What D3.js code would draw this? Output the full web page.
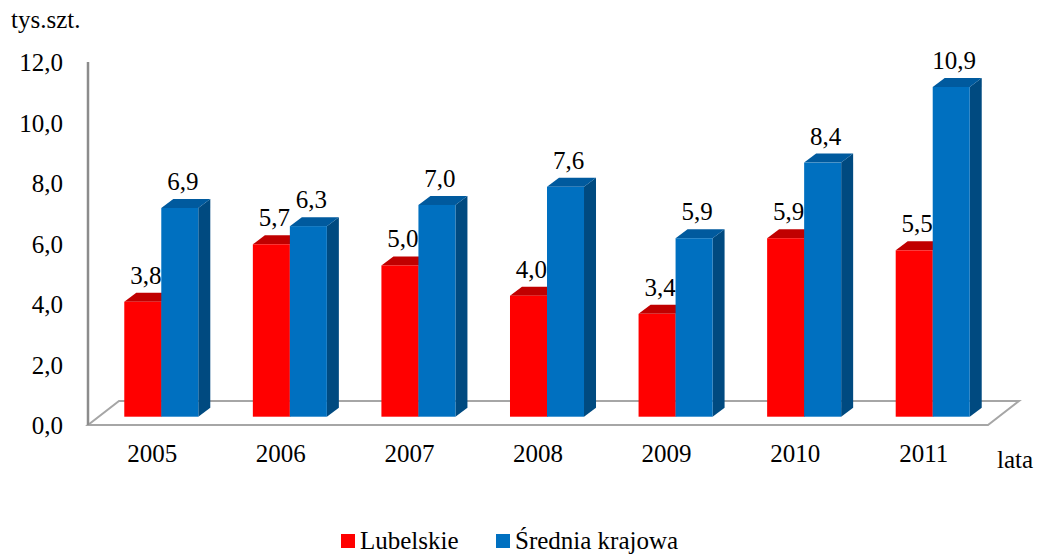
<!DOCTYPE html>
<html lang="pl">
<head>
  <meta charset="UTF-8">
  <title>tys.szt. 2005-2011</title>
  <script src="https://cdn.jsdelivr.net/npm/d3@7"></script>
  <style>
    body { margin: 0; background: #fff; }
  </style>
</head>
<body>
<svg></svg>
<script>
  const width = 1040, height = 554

  // dane
  const years = ['2005', '2006', '2007', '2008', '2009', '2010', '2011']
  const series = ['Lubelskie', 'Średnia krajowa']
  const lubelskie = [3.8, 5.7, 5.0, 4.0, 3.4, 5.9, 5.5]
  const srednia = [6.9, 6.3, 7.0, 7.6, 5.9, 8.4, 10.9]
  const yTicks = [0, 2, 4, 6, 8, 10, 12]

  const frontColor = ['#ff0000', '#0070c0']
  const topColor = ['#c00000', '#005a9e']
  const sideColor = ['#a00000', '#004a80']

  const floorDepth = {dx: 31, dy: -24}   // głębokość podłogi
  const shift = {dx: 9, dy: -8.3}        // przesunięcie słupków w głąb
  const depth = {dx: 12, dy: -9}         // głębokość słupka

  const serif = 'Liberation Serif, Tinos, Times New Roman, Times, Noto Serif, DejaVu Serif, serif'

  const svg = d3.select('svg')
      .attr('width', width)
      .attr('height', height)
      .attr('viewBox', [0, 0, width, height])
      .attr('font-family', serif)

  const x0 = d3.scaleBand()
      .domain(years)
      .range([88, 988])

  const x1 = d3.scaleBand()
      .domain(series)
      .range([0, x0.bandwidth()])
      .paddingOuter(0.737)

  const y = d3.scaleLinear()
      .domain([0, 12])
      .range([425, 62])

  const fmt = v => d3.format('.1f')(v).replace('.', ',')

  // podłoga
  const [fx0, fx1] = x0.range()
  const fy = y(0)
  svg.append('path')
      .attr('fill', 'none')
      .attr('stroke', '#a6a6a6')
      .attr('stroke-width', 2)
      .attr('d', `M${fx0},${fy}L${fx1},${fy}L${fx1 + floorDepth.dx},${fy + floorDepth.dy}` +
                 `L${fx0 + floorDepth.dx},${fy + floorDepth.dy}Z`)

  // oś pionowa
  svg.append('line')
      .attr('x1', fx0).attr('x2', fx0)
      .attr('y1', y(12)).attr('y2', y(0))
      .attr('stroke', '#8c8c8c')
      .attr('stroke-width', 2.5)

  svg.append('g')
      .attr('transform', `translate(${fx0},0)`)
      .call(d3.axisLeft(y).tickValues(yTicks).tickFormat(fmt).tickSize(0).tickPadding(25))
      .call(g => g.select('.domain').remove())
      .attr('font-family', serif)
      .selectAll('text')
      .attr('font-size', 25)
      .attr('fill', '#000')
      .attr('dy', '0.34em')

  // słupki
  const data = []
  years.forEach((yr, i) => {
    data.push({year: yr, s: 0, value: lubelskie[i]})
    data.push({year: yr, s: 1, value: srednia[i]})
  })

  const bars = svg.append('g')
    .selectAll('g')
    .data(data)
    .join('g')

  bars.each(function(d) {
    const g = d3.select(this)
    const xl = x0(d.year) + x1(series[d.s]) + shift.dx
    const xr = xl + x1.bandwidth()
    const yb = y(0) + shift.dy
    const yt = y(d.value) + shift.dy
    // bok
    g.append('path')
        .attr('fill', sideColor[d.s])
        .attr('d', `M${xr},${yb}L${xr + depth.dx},${yb + depth.dy}L${xr + depth.dx},${yt + depth.dy}L${xr},${yt}Z`)
    // góra
    g.append('path')
        .attr('fill', topColor[d.s])
        .attr('d', `M${xl},${yt}L${xl + depth.dx},${yt + depth.dy}L${xr + depth.dx},${yt + depth.dy}L${xr},${yt}Z`)
    // przód
    g.append('rect')
        .attr('x', xl)
        .attr('y', yt)
        .attr('width', x1.bandwidth())
        .attr('height', yb - yt)
        .attr('fill', frontColor[d.s])
    // etykieta
    g.append('text')
        .attr('x', (xl + xr) / 2 + 3)
        .attr('y', yt - 18)
        .attr('text-anchor', 'middle')
        .attr('font-size', 25)
        .text(fmt(d.value))
  })

  // etykiety lat
  svg.append('g')
    .selectAll('text')
    .data(years)
    .join('text')
      .attr('x', d => x0(d) + x0.bandwidth() / 2)
      .attr('y', 462)
      .attr('text-anchor', 'middle')
      .attr('font-size', 25)
      .text(d => d)

  svg.append('text')
      .attr('x', 997)
      .attr('y', 468)
      .attr('font-size', 25)
      .text('lata')

  svg.append('text')
      .attr('x', 11)
      .attr('y', 28)
      .attr('font-size', 25)
      .text('tys.szt.')

  // legenda
  const legendX = [341, 496]
  const legend = svg.append('g')
    .selectAll('g')
    .data(series)
    .join('g')
      .attr('transform', (d, i) => `translate(${legendX[i]},534)`)
  legend.append('rect')
      .attr('width', 14)
      .attr('height', 14)
      .attr('fill', (d, i) => frontColor[i])
  legend.append('text')
      .attr('x', 19)
      .attr('y', 15)
      .attr('font-size', 25)
      .text(d => d)
</script>
</body>
</html>
